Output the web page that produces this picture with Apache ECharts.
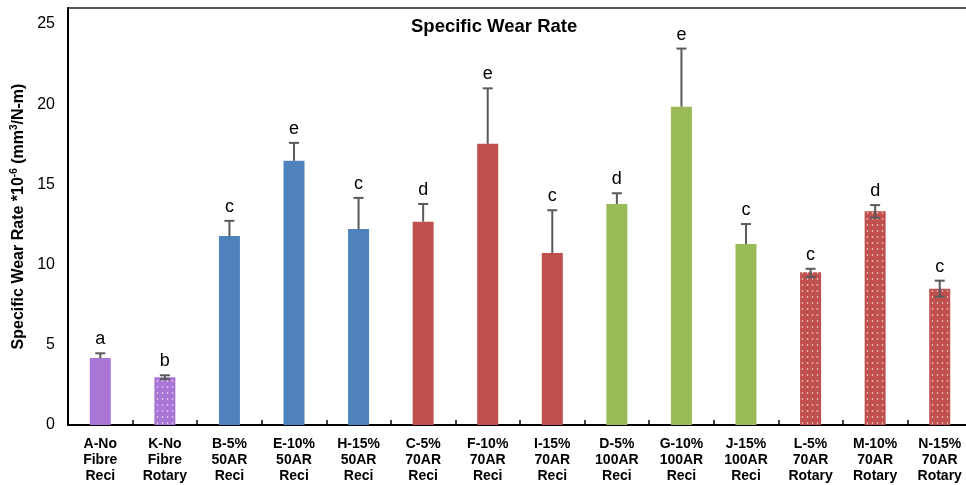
<!DOCTYPE html>
<html>
<head>
<meta charset="utf-8">
<script src="https://cdn.jsdelivr.net/npm/echarts@6/dist/echarts.min.js"></script>
<style>
  html, body { margin: 0; padding: 0; background: #fff; overflow: hidden; }
  #chart { width: 972px; height: 485px; }
</style>
</head>
<body>
<div id="chart"></div>
<script>
// Sample categories (fibre content / aspect ratio / test mode)
const categories = [
  'A-No\nFibre\nReci', 'K-No\nFibre\nRotary',
  'B-5%\n50AR\nReci', 'E-10%\n50AR\nReci', 'H-15%\n50AR\nReci',
  'C-5%\n70AR\nReci', 'F-10%\n70AR\nReci', 'I-15%\n70AR\nReci',
  'D-5%\n100AR\nReci', 'G-10%\n100AR\nReci', 'J-15%\n100AR\nReci',
  'L-5%\n70AR\nRotary', 'M-10%\n70AR\nRotary', 'N-15%\n70AR\nRotary'
];

// Mean specific wear rate (x10^-6 mm3/N-m)
const wearRate = [4.17, 2.98, 11.78, 16.47, 12.22, 12.68, 17.53, 10.72, 13.78, 19.84, 11.28, 9.52, 13.33, 8.5];
// Error bar extents above / below the mean
const errPlus  = [0.30, 0.12, 0.95, 1.12, 1.94, 1.10, 3.46, 2.67, 0.67, 3.63, 1.25, 0.22, 0.38, 0.50];
const errMinus = [0, 0.12, 0, 0, 0, 0, 0, 0, 0, 0, 0, 0.30, 0.40, 0.50];
// Statistical grouping letters
const groupLetters = ['a', 'b', 'c', 'e', 'c', 'd', 'e', 'c', 'd', 'e', 'c', 'c', 'd', 'c'];

// Fill per bar: colour family and whether the bar is dotted (rotary tests)
const barColors = ['#a976d5', '#a976d5', '#4f81bd', '#4f81bd', '#4f81bd',
  '#c0504d', '#c0504d', '#c0504d', '#9bbb59', '#9bbb59', '#9bbb59',
  '#c0504d', '#c0504d', '#c0504d'];
const dotted = [false, true, false, false, false, false, false, false, false, false, false, true, true, true];

const FONT = '"Liberation Sans", Arial, sans-serif';

function dotPattern(color) {
  const c = document.createElement('canvas');
  c.width = 5; c.height = 6;
  const g = c.getContext('2d');
  g.fillStyle = color;
  g.fillRect(0, 0, 5, 6);
  g.fillStyle = 'rgba(255,255,255,0.85)';
  g.beginPath();
  g.arc(2.5, 3, 0.8, 0, Math.PI * 2);
  g.fill();
  return { image: c, repeat: 'repeat' };
}

const barData = wearRate.map((v, i) => ({
  value: v,
  itemStyle: { color: dotted[i] ? dotPattern(barColors[i]) : barColors[i] }
}));

const errData = wearRate.map((v, i) => [i, v, errPlus[i], errMinus[i]]);

function renderError(params, api) {
  const idx = api.value(0);
  const v = api.value(1);
  const up = api.value(2);
  const down = api.value(3);
  const letter = groupLetters[params.dataIndex];
  const top = api.coord([idx, v + up]);
  const bot = api.coord([idx, v - down]);
  const x = top[0];
  const half = 5;
  const lineStyle = { stroke: '#5a5a5a', lineWidth: 2 };
  const children = [
    { type: 'line', shape: { x1: x, y1: top[1], x2: x, y2: bot[1] }, style: lineStyle },
    { type: 'line', shape: { x1: x - half, y1: top[1], x2: x + half, y2: top[1] }, style: lineStyle }
  ];
  if (down > 0) {
    children.push({ type: 'line', shape: { x1: x - half, y1: bot[1], x2: x + half, y2: bot[1] }, style: lineStyle });
  }
  children.push({
    type: 'text',
    style: {
      text: letter, x: x, y: top[1] - 5,
      align: 'center', verticalAlign: 'bottom',
      fontSize: 18, fontFamily: FONT, fill: '#000'
    }
  });
  return { type: 'group', children: children };
}

const chart = echarts.init(document.getElementById('chart'), null, { renderer: 'canvas' });
chart.setOption({
  animation: false,
  backgroundColor: '#fff',
  title: {
    text: 'Specific Wear Rate',
    left: 406, top: 12,
    textStyle: { fontFamily: FONT, fontWeight: 'bold', fontSize: 18.5, color: '#000' }
  },
  grid: {
    left: 68, right: 0, top: 8, height: 417,
    show: true, borderColor: '#222', borderWidth: 1.5
  },
  xAxis: {
    type: 'category',
    data: categories,
    axisLine: { lineStyle: { color: '#000', width: 2 } },
    axisTick: { show: true, inside: true, length: 5, lineStyle: { color: '#000', width: 1.5 } },
    axisLabel: {
      interval: 0, margin: 11,
      fontFamily: FONT, fontWeight: 'bold', fontSize: 14, lineHeight: 16, color: '#000'
    }
  },
  yAxis: {
    type: 'value',
    min: 0, max: 26, interval: 5,
    name: '{t|Specific Wear Rate *10}{s|-6}{t| (mm}{s|3}{t|/N-m)}',
    nameLocation: 'middle',
    nameGap: 31,
    nameTextStyle: {
      rich: {
        t: { fontFamily: FONT, fontWeight: 'bold', fontSize: 16, color: '#000' },
        s: { fontFamily: FONT, fontWeight: 'bold', fontSize: 10, color: '#000', verticalAlign: 'top', padding: [0, 0, 8, 0] }
      }
    },
    axisLine: { show: true, lineStyle: { color: '#000', width: 2 } },
    axisTick: { show: false },
    splitLine: { show: false },
    axisLabel: {
      showMaxLabel: false, margin: 13,
      fontFamily: FONT, fontSize: 16, color: '#000'
    }
  },
  series: [
    {
      type: 'bar',
      data: barData,
      barWidth: 21,
      z: 2
    },
    {
      type: 'custom',
      data: errData,
      renderItem: renderError,
      encode: { x: 0, y: 1 },
      z: 3
    }
  ]
});
</script>
</body>
</html>
